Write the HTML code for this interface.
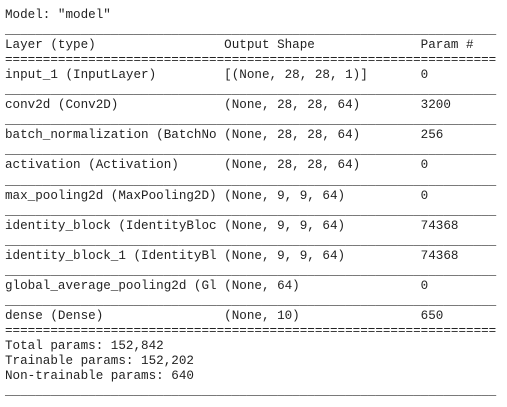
<!DOCTYPE html>
<html><head><meta charset="utf-8"><style>
html,body{margin:0;padding:0;background:#fff;width:507px;height:407px;overflow:hidden}
pre{position:absolute;left:5px;top:8px;margin:0;font-family:"Liberation Mono",monospace;font-size:12.6px;line-height:15.05px;color:#222}
</style></head><body>
<pre>Model: "model"
_________________________________________________________________
Layer (type)                 Output Shape              Param #
=================================================================
input_1 (InputLayer)         [(None, 28, 28, 1)]       0
_________________________________________________________________
conv2d (Conv2D)              (None, 28, 28, 64)        3200
_________________________________________________________________
batch_normalization (BatchNo (None, 28, 28, 64)        256
_________________________________________________________________
activation (Activation)      (None, 28, 28, 64)        0
_________________________________________________________________
max_pooling2d (MaxPooling2D) (None, 9, 9, 64)          0
_________________________________________________________________
identity_block (IdentityBloc (None, 9, 9, 64)          74368
_________________________________________________________________
identity_block_1 (IdentityBl (None, 9, 9, 64)          74368
_________________________________________________________________
global_average_pooling2d (Gl (None, 64)                0
_________________________________________________________________
dense (Dense)                (None, 10)                650
=================================================================
Total params: 152,842
Trainable params: 152,202
Non-trainable params: 640
_________________________________________________________________</pre>
</body></html>
